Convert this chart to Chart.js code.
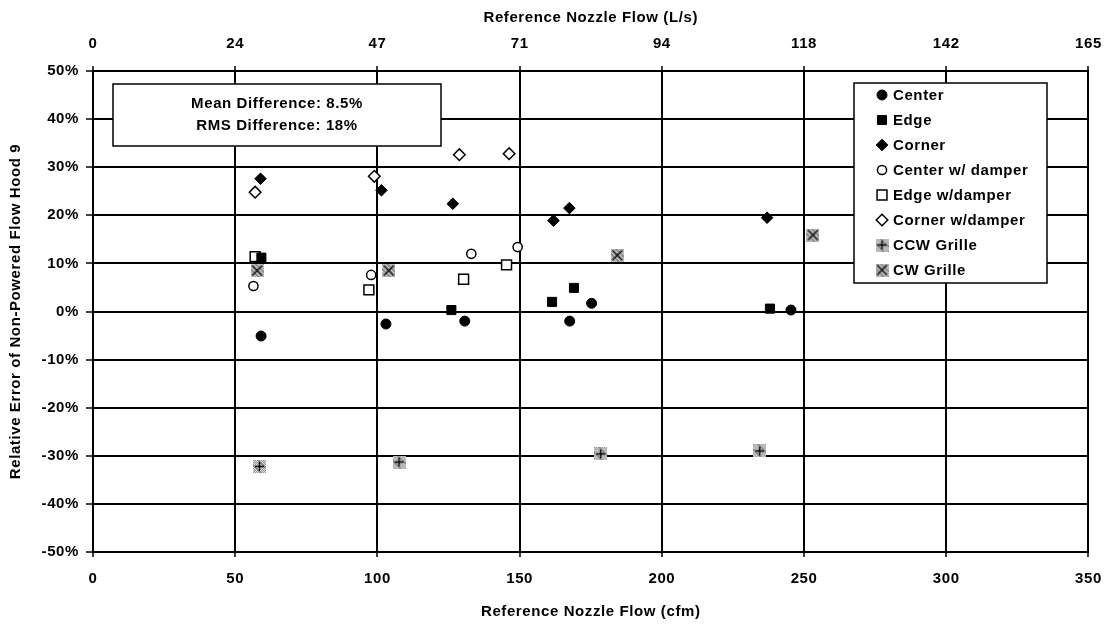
<!DOCTYPE html>
<html><head><meta charset="utf-8">
<script src="https://cdn.jsdelivr.net/npm/chart.js@4/dist/chart.umd.min.js"></script>
<style>html,body{margin:0;padding:0;background:#fff;}#wrap{width:1114px;height:625px;}</style>
</head><body><div id="wrap"><canvas id="c" width="1114" height="625"></canvas></div>
<script>
// ---- data ----
const seriesLabels = ['Center','Edge','Corner','Center w/ damper','Edge w/damper','Corner w/damper','CCW Grille','CW Grille'];
const centerX = [59.1, 103, 130.7, 167.6, 175.3, 245.4];
const centerY = [-5.1, -2.6, -2.0, -2.0, 1.7, 0.3];
const edgeX = [59.2, 126, 161.4, 169.1, 238];
const edgeY = [11.2, 0.3, 2.0, 4.9, 0.6];
const cornerX = [58.9, 101.4, 126.5, 161.9, 167.5, 237];
const cornerY = [27.6, 25.2, 22.4, 18.9, 21.5, 19.5];
const centerDamperX = [56.4, 97.8, 133, 149.3];
const centerDamperY = [5.3, 7.6, 12.0, 13.4];
const edgeDamperX = [57, 97, 130.3, 145.4];
const edgeDamperY = [11.4, 4.5, 6.7, 9.7];
const cornerDamperX = [57, 98.9, 128.8, 146.3];
const cornerDamperY = [24.8, 28.1, 32.6, 32.8];
const ccwGrilleX = [58.5, 107.6, 178.5, 234.4];
const ccwGrilleY = [-32.2, -31.3, -29.6, -29.0];
const cwGrilleX = [57.7, 104, 184.3, 253.1];
const cwGrilleY = [8.5, 8.5, 11.7, 15.9];
const topTickLabels = ['0','24','47','71','94','118','142','165'];
const statLines = ['Mean Difference: 8.5%', 'RMS Difference: 18%'];
const xTitle = 'Reference Nozzle Flow (cfm)';
const x2Title = 'Reference Nozzle Flow (L/s)';
const yTitle = 'Relative Error of Non-Powered Flow Hood 9';

const pts = (xs, ys) => xs.map((x, i) => ({x: x, y: ys[i]}));

function grille(kind) {
  const c = document.createElement('canvas');
  c.width = 13; c.height = 13;
  const g = c.getContext('2d');
  g.fillStyle = '#e6e6e6'; g.fillRect(0, 0, 13, 13);
  for (let y = 0; y < 13; y++) for (let x = 0; x < 13; x++) {
    if ((x + y) % 2 === 0 || ((x * 7 + y * 3) % 5 === 0)) { g.fillStyle = '#8c8c8c'; g.fillRect(x, y, 1, 1); }
  }
  g.strokeStyle = '#000'; g.lineWidth = 1.4; g.beginPath();
  if (kind === '+') { g.moveTo(6.5, 2); g.lineTo(6.5, 11); g.moveTo(2, 6.5); g.lineTo(11, 6.5); }
  else { g.moveTo(1.5, 1.5); g.lineTo(11.5, 11.5); g.moveTo(11.5, 1.5); g.lineTo(1.5, 11.5); }
  g.stroke();
  return c;
}
const ccwImg = grille('+');
const cwImg = grille('x');

const FONT = {family: "'Liberation Sans', Arial, sans-serif", size: 15, weight: 'bold'};
const FONTSTR = "bold 15px 'Liberation Sans', Arial, sans-serif";

function ds(label, data, style, radius, filled) {
  return {
    label: label, data: data, pointStyle: style, pointRadius: radius,
    backgroundColor: filled ? '#000' : '#fff', borderColor: '#000',
    borderWidth: filled ? 1 : 1.5, showLine: false
  };
}
const datasets = [
  ds(seriesLabels[0], pts(centerX, centerY), 'circle', 5, true),
  ds(seriesLabels[1], pts(edgeX, edgeY), 'rect', 6.4, true),
  ds(seriesLabels[2], pts(cornerX, cornerY), 'rectRot', 5.8, true),
  ds(seriesLabels[3], pts(centerDamperX, centerDamperY), 'circle', 4.6, false),
  ds(seriesLabels[4], pts(edgeDamperX, edgeDamperY), 'rect', 7, false),
  ds(seriesLabels[5], pts(cornerDamperX, cornerDamperY), 'rectRot', 5.8, false),
  ds(seriesLabels[6], pts(ccwGrilleX, ccwGrilleY), ccwImg, 6, true),
  ds(seriesLabels[7], pts(cwGrilleX, cwGrilleY), cwImg, 6, true)
];

const spacingPlugin = {
  id: 'spacing',
  beforeDraw(chart) { chart.ctx.letterSpacing = '0.6px'; }
};

const boxesPlugin = {
  id: 'boxes',
  afterDatasetsDraw(chart) {
    const ctx = chart.ctx;
    ctx.save();
    ctx.letterSpacing = '0.6px';
    // stats box
    ctx.fillStyle = '#fff'; ctx.strokeStyle = '#000'; ctx.lineWidth = 1.5;
    ctx.fillRect(113, 84, 328, 62); ctx.strokeRect(113, 84, 328, 62);
    ctx.fillStyle = '#000'; ctx.font = FONTSTR; ctx.textAlign = 'center'; ctx.textBaseline = 'middle';
    statLines.forEach((t, i) => ctx.fillText(t, 277, 104 + i * 22));
    // legend box
    ctx.fillStyle = '#fff';
    ctx.fillRect(854, 83, 193, 200); ctx.strokeRect(854, 83, 193, 200);
    ctx.textAlign = 'left';
    chart.data.datasets.forEach((d, i) => {
      const y = 95 + i * 25;
      ctx.save();
      ctx.fillStyle = d.backgroundColor; ctx.strokeStyle = d.borderColor; ctx.lineWidth = d.borderWidth;
      Chart.helpers.drawPoint(ctx, {pointStyle: d.pointStyle, radius: d.pointRadius, rotation: 0, borderWidth: d.borderWidth}, 882, y);
      ctx.restore();
      ctx.fillStyle = '#000'; ctx.font = FONTSTR; ctx.textAlign = 'left'; ctx.textBaseline = 'middle';
      ctx.fillText(d.label, 893, y + 1);
    });
    ctx.restore();
  }
};

const gridOpts = (tl, onArea) => ({color: '#000', lineWidth: 2, tickLength: tl, tickColor: '#000', tickWidth: 1.5, drawOnChartArea: onArea});

new Chart(document.getElementById('c'), {
  type: 'scatter',
  data: {datasets: datasets},
  options: {
    responsive: false, animation: false, devicePixelRatio: 1,
    layout: {padding: {left: 0, right: 22, top: 0, bottom: 0}},
    plugins: {legend: {display: false}, tooltip: {enabled: false}},
    scales: {
      x: {
        type: 'linear', position: 'bottom', min: 0, max: 350,
        ticks: {stepSize: 50, padding: 13, color: '#000', font: FONT},
        grid: gridOpts(5, true), border: {color: '#000', width: 2},
        title: {display: true, text: xTitle, color: '#000', font: FONT, padding: {top: 0, bottom: 4}},
        afterFit(s) { s.height = 73; }
      },
      x2: {
        type: 'linear', position: 'top', min: 0, max: 350,
        ticks: {stepSize: 50, padding: 13, color: '#000', font: FONT, callback: (v) => topTickLabels[Math.round(v / 50)]},
        grid: gridOpts(5, false), border: {color: '#000', width: 2},
        title: {display: true, text: x2Title, color: '#000', font: FONT, padding: {top: 9, bottom: 0}},
        afterFit(s) { s.height = 71; }
      },
      y: {
        type: 'linear', position: 'left', min: -50, max: 50,
        ticks: {stepSize: 10, padding: 7, color: '#000', font: FONT, callback: (v) => v + '%'},
        grid: gridOpts(7, true), border: {color: '#000', width: 2},
        title: {display: true, text: yTitle, color: '#000', font: FONT, padding: {top: 7, bottom: 0}},
        afterFit(s) { s.width = 93; }
      }
    }
  },
  plugins: [spacingPlugin, boxesPlugin]
});
</script></body></html>
